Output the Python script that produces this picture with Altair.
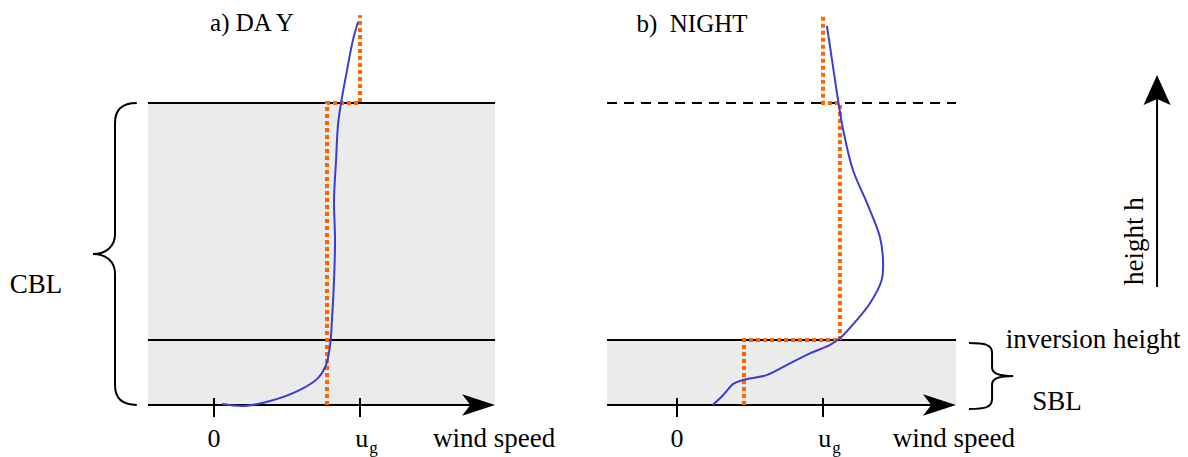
import altair as alt
import pandas as pd

# ---------------- data (wind speed in units of u_g, height in units of CBL depth) -------------
panel_names = ["a", "b"]
panel_offset = [0.0, 3.171]          # where each panel's origin sits on the shared x scale
panel_left = [-0.452, -0.479]
panel_right = [1.925, 1.911]

cbl_top = 1.0
inversion_h = 0.215
profile_top = 1.291

# blue: observed wind-speed profiles
day_speed = [0.055, 0.205, 0.384, 0.589, 0.712, 0.767, 0.795, 0.808, 0.822, 0.829, 0.822,
             0.836, 0.849, 0.870, 0.911, 0.952, 0.986]
day_height = [0.003, -0.003, 0.013, 0.050, 0.089, 0.132, 0.199, 0.281, 0.414, 0.546, 0.679,
              0.811, 0.927, 1.000, 1.109, 1.209, 1.268]
night_speed = [0.245, 0.317, 0.386, 0.454, 0.614, 0.751, 0.911, 1.048, 1.116, 1.231, 1.322,
               1.402, 1.411, 1.390, 1.301, 1.205, 1.137, 1.103, 1.062, 1.027]
night_height = [0.0, 0.033, 0.070, 0.083, 0.099, 0.132, 0.171, 0.199, 0.221, 0.281, 0.337,
                0.414, 0.480, 0.556, 0.669, 0.778, 0.914, 1.010, 1.142, 1.255]

# orange dotted: idealised step profiles
day_step_speed = [0.774, 0.774, 1.0, 1.0]
day_step_height = [0.0, 1.0, 1.0, 1.291]
night_step_speed = [0.459, 0.459, 1.116, 1.116, 1.0, 1.0]
night_step_height = [0.0, 0.215, 0.215, 1.0, 1.0, 1.291]

tick_values = [0.0, 1.0]
tick_labels = ["0", "u"]
titles = ["a) DA Y", "b)\u00a0\u00a0NIGHT"]

# annotation anchors (x on the shared scale, y in height units)
ann_text = ["CBL", "inversion height", "SBL"]
ann_x = [-1.219, 6.021, 5.774]
ann_y = [0.397, 0.215, 0.010]

# ---------------- scales ----------------
XS = alt.Scale(domain=[-1.4658, 6.671], nice=False, zero=False)
YS = alt.Scale(domain=[-0.1722, 1.3411], nice=False, zero=False)
FONT = "Liberation Serif"
BLUE = "#3c3cd2"
ORANGE = "#ff6600"
FS = 27


def X(f="x"):
    return alt.X(f"{f}:Q", scale=XS, axis=None)


def Y(f="y"):
    return alt.Y(f"{f}:Q", scale=YS, axis=None)


# shaded layers
shade = pd.DataFrame({
    "x": [panel_left[0] + panel_offset[0], panel_left[1] + panel_offset[1]],
    "x2": [panel_right[0] + panel_offset[0], panel_right[1] + panel_offset[1]],
    "y": [0.0, 0.0],
    "y2": [cbl_top, inversion_h],
})
shade_layer = alt.Chart(shade).mark_rect(color="#ebebeb").encode(
    x=X(), x2="x2:Q", y=Y(), y2="y2:Q")

# solid horizontal lines
solid = pd.DataFrame({
    "x": [panel_left[0], panel_left[0], panel_left[1] + panel_offset[1]],
    "x2": [panel_right[0], panel_right[0], panel_right[1] + panel_offset[1]],
    "y": [cbl_top, inversion_h, inversion_h],
})
solid_layer = alt.Chart(solid).mark_rule(color="black", strokeWidth=2).encode(
    x=X(), x2="x2:Q", y=Y())

dashed = pd.DataFrame({"x": [panel_left[1] + panel_offset[1]],
                       "x2": [panel_right[1] + panel_offset[1]], "y": [cbl_top]})
dashed_layer = alt.Chart(dashed).mark_rule(color="black", strokeWidth=2, strokeDash=[10, 7]).encode(
    x=X(), x2="x2:Q", y=Y())

# ground axes with arrows
ground = pd.DataFrame({
    "x": [panel_left[p] + panel_offset[p] for p in range(2)],
    "x2": [panel_right[p] + panel_offset[p] - 0.16 for p in range(2)],
    "y": [0.0, 0.0],
})
ground_layer = alt.Chart(ground).mark_rule(color="black", strokeWidth=2).encode(
    x=X(), x2="x2:Q", y=Y())
heads = pd.DataFrame({"x": [panel_right[p] + panel_offset[p] - 0.113 for p in range(2)], "y": [0.0, 0.0]})
heads_layer = alt.Chart(heads).mark_point(
    shape="M1,0 L-1,-0.65 L-0.5,0 L-1,0.65 Z", size=1089, filled=True, color="black", opacity=1
).encode(x=X(), y=Y())

# ticks
ticks = pd.DataFrame({
    "x": [v + panel_offset[p] for p in range(2) for v in tick_values],
    "y": [-0.040] * 4, "y2": [0.023] * 4,
})
ticks_layer = alt.Chart(ticks).mark_rule(color="black", strokeWidth=2).encode(
    x=X(), y=Y(), y2="y2:Q")

# profiles
rows = []
for i, (s, h) in enumerate(zip(day_speed, day_height)):
    rows.append({"x": s + panel_offset[0], "y": h, "i": i, "k": "day"})
for i, (s, h) in enumerate(zip(night_speed, night_height)):
    rows.append({"x": s + panel_offset[1], "y": h, "i": i, "k": "night"})
blue = pd.DataFrame(rows)
blue_layer = alt.Chart(blue).mark_line(color=BLUE, strokeWidth=2, interpolate="catmull-rom").encode(
    x=X(), y=Y(), detail="k:N", order="i:Q")

rows = []
for i, (s, h) in enumerate(zip(day_step_speed, day_step_height)):
    rows.append({"x": s + panel_offset[0], "y": h, "i": i, "k": "day"})
for i, (s, h) in enumerate(zip(night_step_speed, night_step_height)):
    rows.append({"x": s + panel_offset[1], "y": h, "i": i, "k": "night"})
steps = pd.DataFrame(rows)
step_layer = alt.Chart(steps).mark_line(color=ORANGE, strokeWidth=4, strokeDash=[4, 3]).encode(
    x=X(), y=Y(), detail="k:N", order="i:Q")

# tick labels
lab = pd.DataFrame({
    "x": [v + panel_offset[p] + (0.012 if t == "u" else 0) for p in range(2)
          for v, t in zip(tick_values, tick_labels)],
    "y": [-0.113] * 4,
    "t": tick_labels * 2,
})
lab_layer = alt.Chart(lab).mark_text(font=FONT, fontSize=26, color="black", baseline="middle").encode(
    x=X(), y=Y(), text="t:N")
sub = pd.DataFrame({"x": [1.0 + 0.092 + panel_offset[p] for p in range(2)], "y": [-0.142] * 2, "t": ["g", "g"]})
sub_layer = alt.Chart(sub).mark_text(font=FONT, fontSize=17, color="black", baseline="middle").encode(
    x=X(), y=Y(), text="t:N")
ws = pd.DataFrame({"x": [1.918, 1.897 + panel_offset[1]], "y": [-0.113] * 2, "t": ["wind speed"] * 2})
ws_layer = alt.Chart(ws).mark_text(font=FONT, fontSize=FS, color="black", baseline="middle").encode(
    x=X(), y=Y(), text="t:N")

# titles
tt = pd.DataFrame({"x": [0.26, 0.103 + panel_offset[1]], "y": [1.265, 1.262], "t": titles})
tt_layer = alt.Chart(tt).mark_text(font=FONT, fontSize=25, color="black", baseline="middle").encode(
    x=X(), y=Y(), text="t:N")

# annotations
ann = pd.DataFrame({"x": ann_x, "y": ann_y, "t": ann_text})
ann_layer = alt.Chart(ann).mark_text(font=FONT, fontSize=FS, color="black", baseline="middle").encode(
    x=X(), y=Y(), text="t:N")

# braces
cbl_brace = pd.DataFrame({"x": [-0.678], "y": [0.5]})
cbl_brace_layer = alt.Chart(cbl_brace).mark_point(
    shape="M0.144,-1 C0.06,-1 0,-0.97 0,-0.87 L0,-0.13 C0,-0.05 -0.06,0 -0.146,0 "
          "C-0.06,0 0,0.05 0,0.13 L0,0.87 C0,0.97 0.06,1 0.144,1",
    size=302 * 302, filled=False, color="black", strokeWidth=2, opacity=1
).encode(x=X(), y=Y())
sbl_brace = pd.DataFrame({"x": [5.329], "y": [0.096]})
sbl_brace_layer = alt.Chart(sbl_brace).mark_point(
    shape="M-0.7,-1 C-0.2,-1 0,-0.95 0,-0.7 L0,-0.25 C0,-0.05 0.3,0 0.64,0 "
          "C0.3,0 0,0.05 0,0.25 L0,0.7 C0,0.95 -0.2,1 -0.7,1",
    size=66 * 66, filled=False, color="black", strokeWidth=2, opacity=1
).encode(x=X(), y=Y())

# height arrow
harrow = pd.DataFrame({"x": [6.459], "y": [0.391], "y2": [1.03]})
harrow_layer = alt.Chart(harrow).mark_rule(color="black", strokeWidth=2).encode(
    x=X(), y=Y(), y2="y2:Q")
hhead = pd.DataFrame({"x": [6.459], "y": [1.043]})
hhead_layer = alt.Chart(hhead).mark_point(
    shape="M0,-1 L0.9,1 L0,0.6 L-0.9,1 Z", size=900, filled=True, color="black", opacity=1
).encode(x=X(), y=Y())
htext = pd.DataFrame({"x": [6.308], "y": [0.543], "t": ["height h"]})
htext_layer = alt.Chart(htext).mark_text(font=FONT, fontSize=FS, color="black", angle=270,
                                         baseline="middle").encode(x=X(), y=Y(), text="t:N")

chart = alt.layer(
    shade_layer, solid_layer, dashed_layer, ground_layer, heads_layer, ticks_layer,
    step_layer, blue_layer, lab_layer, sub_layer, ws_layer, tt_layer, ann_layer,
    cbl_brace_layer, sbl_brace_layer, harrow_layer, hhead_layer, htext_layer,
).properties(
    width=1188, height=457, padding=0, background="white",
    autosize=alt.AutoSizeParams(type="none"),
).configure_view(stroke=None)

chart.save("out.html", embed_options={"renderer": "svg", "actions": False})
